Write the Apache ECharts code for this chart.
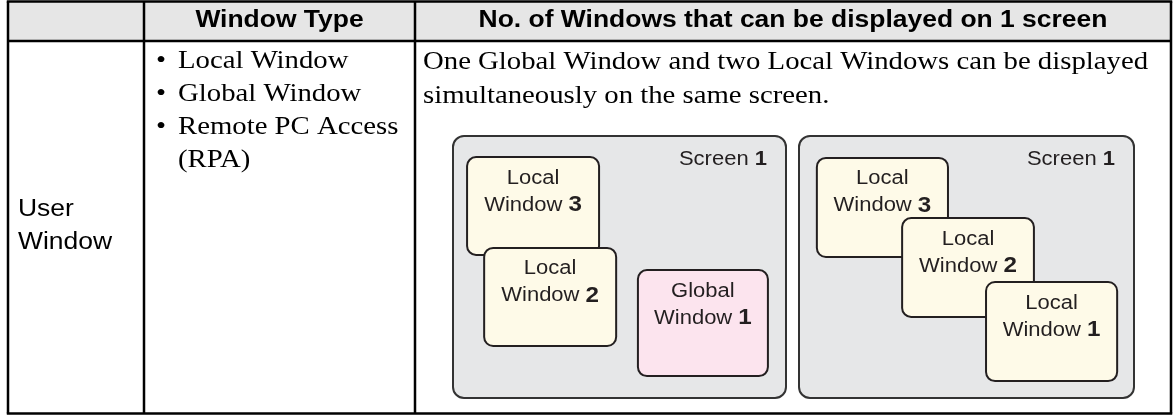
<!DOCTYPE html>
<html><head><meta charset="utf-8">
<script src="https://cdn.jsdelivr.net/npm/echarts@6/dist/echarts.min.js"></script>
<style>html,body{margin:0;padding:0;background:#fff}#c{width:1176px;height:415px}</style>
</head><body><div id="c"></div>
<script>
// ---------------- data ----------------
const headerLabels = ['', 'Window Type', 'No. of Windows that can be displayed on 1 screen'];
const rowLabelLines = ['User', 'Window'];
const windowTypeItems = [['Local Window'], ['Global Window'], ['Remote PC Access', '(RPA)']];
const descriptionLines = ['One Global Window and two Local Windows can be displayed',
                          'simultaneously on the same screen.'];
const screenLabel = ['Screen ', '1'];
// windows inside each screen: label lines, kind, box [left, top, right, bottom] in % of the screen
const winNamesA = [['Local', 'Window ', '3'], ['Local', 'Window ', '2'], ['Global', 'Window ', '1']];
const winKindA = ['local', 'local', 'global'];
const winBoxA = [[4.2, 8.0, 44.2, 45.8], [9.3, 42.4, 49.3, 80.3], [55.2, 50.8, 94.6, 91.7]];
const winNamesB = [['Local', 'Window ', '3'], ['Local', 'Window ', '2'], ['Local', 'Window ', '1']];
const winKindB = ['local', 'local', 'local'];
const winBoxB = [[5.3, 8.3, 44.8, 46.6], [30.6, 31.1, 70.3, 69.3], [55.5, 55.3, 95.0, 93.6]];

// ---------------- layout / style ----------------
const SX = 1.15;
const SXW = 1.1;
const SANS = "'Liberation Sans', Arial, sans-serif";
const SERIF = "'Liberation Serif', 'Times New Roman', serif";
const T = { x0: 8, x1: 1171, y0: 1.5, yH: 41, y1: 413.5, c1: 144, c2: 415 };
const LINE = 2.5;
const fills = { local: '#fefae8', global: '#fce4ee' };

function txt(x, y, text, font, align) {
  return {
    type: 'text', x: x, y: y, scaleX: SX, silent: true,
    style: { text: text, x: 0, y: 0, font: font, fill: '#000',
      align: align, textAlign: align, verticalAlign: 'middle', textVerticalAlign: 'middle' }
  };
}
function line(x1, y1, x2, y2) {
  return { type: 'line', silent: true, shape: { x1, y1, x2, y2 },
    style: { stroke: '#000', lineWidth: LINE } };
}

const graphics = [];
graphics.push({ type: 'rect', silent: true, shape: { x: T.x0, y: T.y0, width: T.x1 - T.x0, height: T.yH - T.y0 },
  style: { fill: '#e6e6e6' } });
graphics.push(line(T.x0 - 1.2, T.y0, T.x1 + 1.2, T.y0));
graphics.push(line(T.x0, T.yH, T.x1, T.yH));
graphics.push(line(T.x0 - 1.2, T.y1, T.x1 + 1.2, T.y1));
[T.x0, T.c1, T.c2, T.x1].forEach(x => graphics.push(line(x, T.y0, x, T.y1)));

graphics.push(txt((T.c1 + T.c2) / 2, 21, headerLabels[1], 'bold 23px ' + SANS, 'center'));
graphics.push(txt((T.c2 + T.x1) / 2, 21, headerLabels[2], 'bold 23px ' + SANS, 'center'));

rowLabelLines.forEach((s, i) => graphics.push(txt(18, 210 + i * 33, s, '23px ' + SANS, 'left')));

let ln = 0;
windowTypeItems.forEach(item => {
  item.forEach((s, j) => {
    const y = 61 + ln * 33;
    if (j === 0) graphics.push(txt(156, y, '\u2022', '25px ' + SERIF, 'left'));
    graphics.push(txt(178, y, s, '25px ' + SERIF, 'left'));
    ln++;
  });
});
descriptionLines.forEach((s, i) => graphics.push(txt(423, 62 + i * 34, s, '25px ' + SERIF, 'left')));

// ---------------- screens (custom series on hidden grids) ----------------
function renderScreen(params, api) {
  const p0 = api.coord([0, 0]);
  const p1 = api.coord([100, 100]);
  return { type: 'group', children: [
    { type: 'rect', shape: { x: p0[0] + 1, y: p0[1] + 1, width: p1[0] - p0[0] - 2, height: p1[1] - p0[1] - 2, r: 11 },
      style: { fill: '#e6e7e8', stroke: '#333333', lineWidth: 2 } },
    { type: 'text', x: p1[0] - 20, y: p0[1] + 24, scaleX: SXW,
      style: { text: '{a|' + screenLabel[0] + '}{b|' + screenLabel[1] + '}',
        rich: { a: { fontSize: 20, fontFamily: SANS, fill: '#231f20' },
                b: { fontSize: 20, fontFamily: SANS, fontWeight: 'bold', fill: '#231f20' } },
        align: 'right', textAlign: 'right', verticalAlign: 'middle', textVerticalAlign: 'middle' } }
  ] };
}
function makeWinRenderer(names, kinds) {
  return function (params, api) {
    const i = params.dataIndex;
    const p0 = api.coord([api.value(0), api.value(1)]);
    const p1 = api.coord([api.value(2), api.value(3)]);
    const cx = (p0[0] + p1[0]) / 2;
    const nm = names[i];
    return { type: 'group', children: [
      { type: 'rect', shape: { x: p0[0] + 1, y: p0[1] + 1, width: p1[0] - p0[0] - 2, height: p1[1] - p0[1] - 2, r: 9 },
        style: { fill: fills[kinds[i]], stroke: '#231f20', lineWidth: 2 } },
      { type: 'text', x: cx, y: p0[1] + 22, scaleX: SXW,
        style: { text: nm[0], font: '20px ' + SANS, fill: '#231f20',
          align: 'center', textAlign: 'center', verticalAlign: 'middle', textVerticalAlign: 'middle' } },
      { type: 'text', x: cx, y: p0[1] + 49, scaleX: SXW,
        style: { text: '{a|' + nm[1] + '}{b|' + nm[2] + '}',
          rich: { a: { fontSize: 20, fontFamily: SANS, fill: '#231f20' },
                  b: { fontSize: 22, fontFamily: SANS, fontWeight: 'bold', fill: '#231f20' } },
          align: 'center', textAlign: 'center', verticalAlign: 'middle', textVerticalAlign: 'middle' } }
    ] };
  };
}

const chart = echarts.init(document.getElementById('c'), null, { renderer: 'canvas' });
const axX = g => ({ type: 'value', gridIndex: g, min: 0, max: 100, show: false });
const axY = g => ({ type: 'value', gridIndex: g, min: 0, max: 100, inverse: true, show: false });
const custom = (g, data, fn) => ({ type: 'custom', xAxisIndex: g, yAxisIndex: g, data: data,
  renderItem: fn, clip: false, silent: true, animation: false, encode: { x: [0, 2], y: [1, 3] } });

chart.setOption({
  animation: false,
  backgroundColor: '#fff',
  grid: [{ left: 452, top: 135, width: 335, height: 264 }, { left: 798, top: 135, width: 337, height: 264 }],
  xAxis: [axX(0), axX(1)],
  yAxis: [axY(0), axY(1)],
  series: [
    custom(0, [[0, 0, 100, 100]], renderScreen),
    custom(0, winBoxA, makeWinRenderer(winNamesA, winKindA)),
    custom(1, [[0, 0, 100, 100]], renderScreen),
    custom(1, winBoxB, makeWinRenderer(winNamesB, winKindB))
  ],
  graphic: { elements: graphics }
});
</script></body></html>
